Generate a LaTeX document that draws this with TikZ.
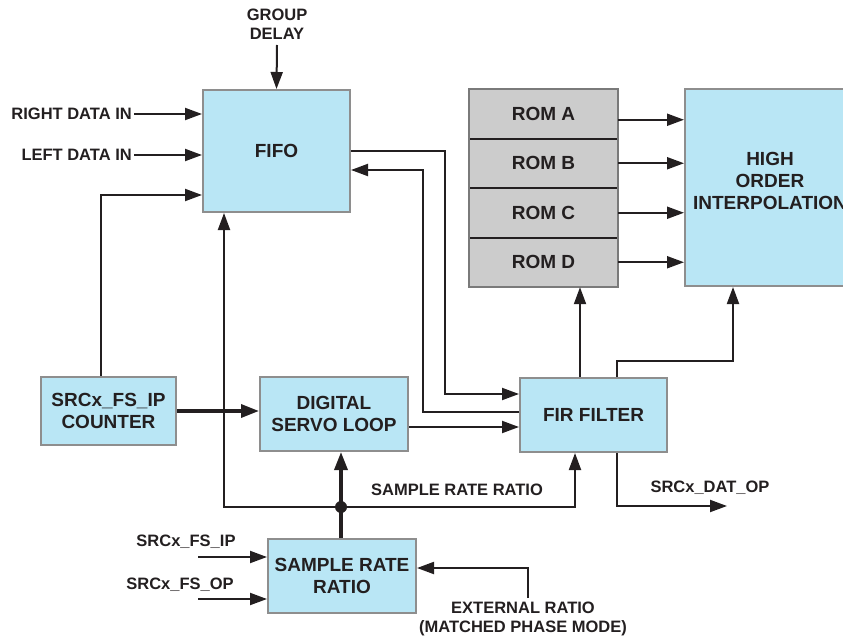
\documentclass[tikz,border=0pt]{standalone}
\usepackage{fontspec}
\setmainfont{Liberation Sans}
\usetikzlibrary{arrows.meta}
\definecolor{boxblue}{HTML}{B9E6F5}
\definecolor{boxedge}{HTML}{8E8E8E}
\definecolor{romfill}{HTML}{CCCCCC}
\definecolor{romedge}{HTML}{7A7A7A}
\definecolor{ink}{HTML}{231F20}
\begin{document}
\begin{tikzpicture}[x=1pt,y=-1pt,
  blk/.style={draw=boxedge, line width=2pt, fill=boxblue, align=center, inner sep=0pt, font=\fontsize{19}{22.5}\selectfont\bfseries, text=ink},
  romcell/.style={fill=romfill, minimum width=149pt, minimum height=49.5pt, inner sep=0pt, font=\fontsize{19}{22.5}\selectfont\bfseries, text=ink},
  lbl/.style={font=\fontsize{16.5}{19.5}\selectfont\bfseries, text=ink, align=center, inner sep=2pt},
  arr/.style={draw=ink, line width=2pt, -{Triangle[length=17pt,width=12pt]}},
  arrthick/.style={draw=ink, line width=3.3pt, -{Triangle[length=18pt,width=13pt]}},
  wire/.style={draw=ink, line width=2pt}
]
\useasboundingbox (0,0) rectangle (843,639);

% blocks
\node[blk, minimum width=147pt, minimum height=122pt] (fifo) at (276.5,151) {FIFO};
\node[blk, minimum width=135pt, minimum height=68pt] (counter) at (108.5,411) {SRCx\_FS\_IP\\COUNTER};
\node[blk, minimum width=148pt, minimum height=74pt] (dsl) at (334,414) {DIGITAL\\SERVO LOOP};
\node[blk, minimum width=147pt, minimum height=74pt] (fir) at (593.5,415) {FIR FILTER};
\node[blk, minimum width=148pt, minimum height=74pt] (srr) at (342,576) {SAMPLE RATE\\RATIO};
\node[blk, minimum width=176pt, minimum height=197pt] (hoi) at (773,187.5) {};
\node[lbl, font=\fontsize{19}{22}\selectfont\bfseries] (hoit) at (770,181) {HIGH\\ORDER\\INTERPOLATION};

% ROM stack
\node[romcell] (romA) at (543.5,113.75) {ROM A};
\node[romcell] (romB) at (543.5,163.25) {ROM B};
\node[romcell] (romC) at (543.5,212.75) {ROM C};
\node[romcell] (romD) at (543.5,262.25) {ROM D};
\draw[wire] (romA.south west) -- (romA.south east);
\draw[wire] (romB.south west) -- (romB.south east);
\draw[wire] (romC.south west) -- (romC.south east);
\draw[romedge, line width=2.5pt] (romA.north west) rectangle (romD.south east);

% labels
\node[lbl] (gd) at (277,24) {GROUP\\DELAY};
\node[lbl, anchor=east] (rdi) at (134,114) {RIGHT DATA IN};
\node[lbl, anchor=east] (ldi) at (134,155) {LEFT DATA IN};
\node[lbl] (fsipl) at (186,542) {SRCx\_FS\_IP};
\node[lbl] (fsopl) at (180,585) {SRCx\_FS\_OP};
\node[lbl] (srrl) at (457,490) {SAMPLE RATE RATIO};
\node[lbl] (datl) at (710,488) {SRCx\_DAT\_OP};
\node[lbl] (extl) at (523,619) {EXTERNAL RATIO\\(MATCHED PHASE MODE)};

% coordinates
\coordinate (gdend) at (277,45);
\coordinate (c195) at (101,195);
\coordinate (k1) at (445,394);
\coordinate (k2) at (423,412);
\coordinate (k3) at (423,170);
\coordinate (k4) at (408,427);
\coordinate (k5) at (580,300);
\coordinate (k6) at (617,361);
\coordinate (k7) at (733,361);
\coordinate (k8) at (617,506);
\coordinate (datend) at (727,506);
\coordinate (dot) at (341,507);
\coordinate (k9) at (224,507);
\coordinate (k10) at (575,507);
\coordinate (fsip) at (198,557);
\coordinate (fsop) at (198,599);
\coordinate (ext) at (528,598);
\coordinate (k11) at (528,568);

% connectors
\draw[arr] (gdend) -- (fifo.north);
\draw[arr] (rdi.east) -- (rdi.east -| fifo.west);
\draw[arr] (ldi.east) -- (ldi.east -| fifo.west);
\draw[arr] (counter.north -| c195) -- (c195) -- (c195 -| fifo.west);
\draw[arr] (fifo.east) -| (k1) -- (k1 -| fir.west);
\draw[arr] (k2 -| fir.west) -- (k2) -- (k3) -- (k3 -| fifo.east);
\draw[arr] (k4 -| dsl.east) -- (k4 -| fir.west);
\draw[arrthick] (counter.east) -- (counter.east -| dsl.west);
\draw[arr] (fir.north -| k5) -- (romD.south -| k5);
\draw[arr] (fir.north -| k6) -- (k6) -- (k7) -- (k7 |- hoi.south);
\draw[arr] ([yshift=-6pt]romA.east) -- ([yshift=-6pt]romA.east -| hoi.west);
\draw[arr] (romB.east) -- (romB.east -| hoi.west);
\draw[arr] (romC.east) -- (romC.east -| hoi.west);
\draw[arr] (romD.east) -- (romD.east -| hoi.west);
\draw[arr] (fir.south -| k8) -- (k8) -- (datend);
\draw[arr] (dot) -- (k9) -- (k9 |- fifo.south);
\draw[arr] (dot) -- (k10) -- (k10 |- fir.south);
\draw[arrthick] (srr.north -| dot) -- (dot |- dsl.south);
\fill[ink] (dot) circle (6pt);
\draw[arr] (fsip) -- (fsip -| srr.west);
\draw[arr] (fsop) -- (fsop -| srr.west);
\draw[arr] (ext) -- (k11) -- (k11 -| srr.east);
\end{tikzpicture}
\end{document}
